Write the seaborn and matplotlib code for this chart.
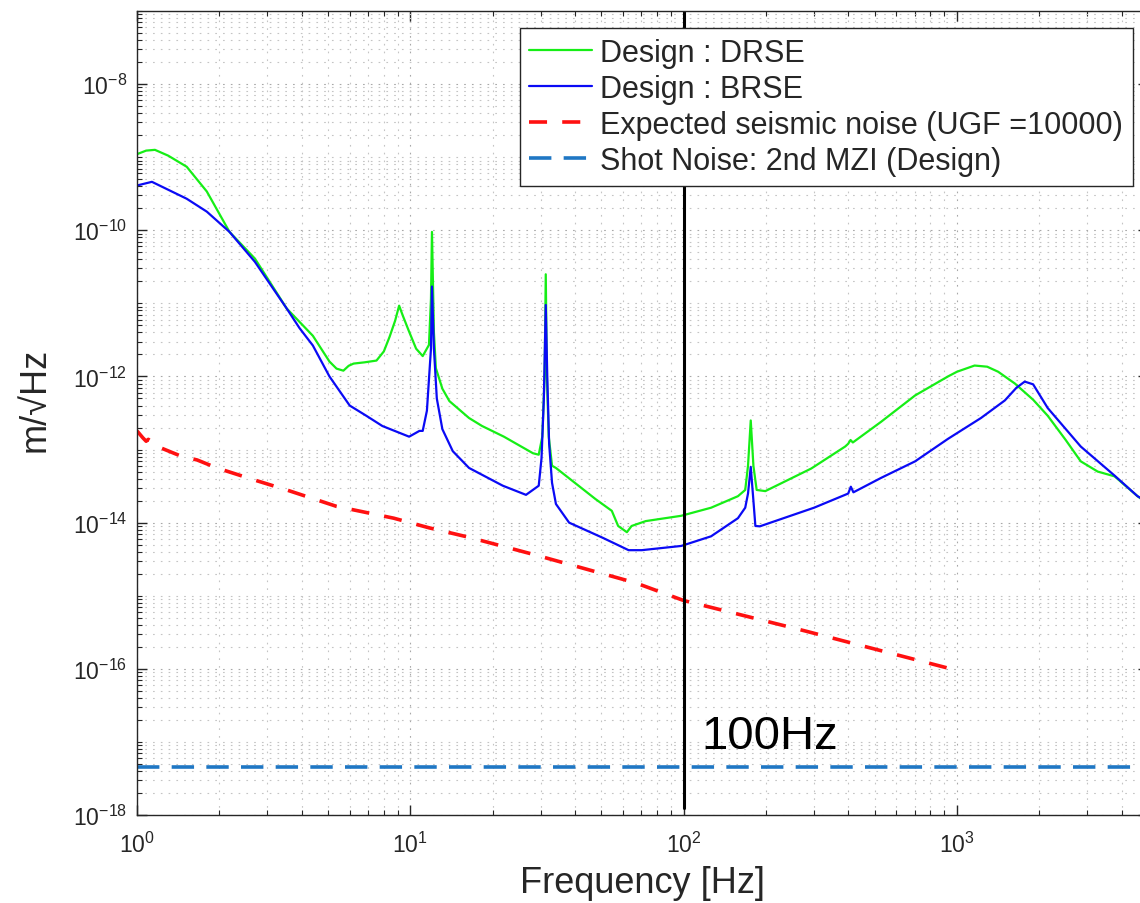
import matplotlib
matplotlib.use("Agg")
import matplotlib.pyplot as plt
import matplotlib.ticker as mticker
import seaborn as sns

# --- values (Hz, m/sqrt(Hz)) ---
drse_freq = [1.0, 1.08, 1.163, 1.3, 1.52, 1.8, 2.18, 2.7, 3.53, 4.4, 5.06, 5.37, 5.69,
             5.95, 6.2, 6.8, 7.52, 8.0, 8.4, 8.8, 9.1, 9.4, 9.9, 10.5, 11.1, 11.7, 11.9,
             12.0, 12.2, 12.4, 13.1, 13.9, 16.4, 18.3, 22.0, 28.1, 29.5, 30.4, 31.0, 31.3,
             31.6, 32.1, 33.0, 34.1, 41.7, 47.6, 54.6, 57.6, 62.0, 64.5, 72.7, 97.9, 126,
             158, 168, 172, 176, 180, 185, 199, 293, 390, 400, 408, 416, 528, 703, 927,
             1000, 1160, 1290, 1415, 1629, 1900, 2148, 2500, 2837, 3271, 3773, 4578, 5000]
drse_amp = [1.1e-9, 1.23e-9, 1.26e-9, 1.05e-9, 7.4e-10, 3.4e-10, 9.5e-11, 4.1e-11, 8.5e-12,
            3.6e-12, 1.6e-12, 1.28e-12, 1.2e-12, 1.4e-12, 1.5e-12, 1.56e-12, 1.65e-12,
            2.2e-12, 3.5e-12, 5.8e-12, 9.3e-12, 6.7e-12, 4.1e-12, 2.4e-12, 1.9e-12, 2.7e-12,
            1.15e-11, 9.5e-11, 4e-12, 1.3e-12, 6.8e-13, 4.6e-13, 2.7e-13, 2.1e-13, 1.5e-13,
            8.9e-14, 8.5e-14, 1.5e-13, 1e-12, 2.5e-11, 1e-12, 1.5e-13, 6e-14, 5.6e-14,
            3.1e-14, 2.1e-14, 1.45e-14, 9e-15, 7.4e-15, 9e-15, 1.05e-14, 1.24e-14, 1.6e-14,
            2.3e-14, 2.8e-14, 6e-14, 2.5e-13, 6e-14, 2.8e-14, 2.7e-14, 5.5e-14, 1.1e-13,
            1.2e-13, 1.35e-13, 1.25e-13, 2.4e-13, 5.5e-13, 1.0e-12, 1.16e-12, 1.41e-12,
            1.36e-12, 1.16e-12, 8.0e-13, 4.8e-13, 2.9e-13, 1.35e-13, 6.9e-14, 5.0e-14,
            4.3e-14, 2.3e-14, 1.8e-14]

brse_freq = [1.0, 1.134, 1.52, 1.8, 2.18, 2.7, 3.53, 3.93, 4.4, 5.06, 6.0, 6.9, 7.9, 9.9,
             10.8, 11.1, 11.5, 11.9, 12.0, 12.2, 12.5, 13.1, 14.3, 16.4, 21.8, 26.5, 29.5,
             30.2, 30.8, 31.3, 31.7, 32.2, 33.0, 34.1, 38.1, 50.6, 62.9, 70.3, 98, 126, 158,
             168, 172, 176, 180, 183, 190, 300, 400, 409, 418, 528, 703, 927, 1224, 1497,
             1650, 1770, 1900, 2148, 2837, 3773, 4578, 5000]
brse_amp = [4.1e-10, 4.6e-10, 2.7e-10, 1.8e-10, 9.5e-11, 3.7e-11, 8.5e-12, 4.6e-12, 2.65e-12,
            1.0e-12, 4.0e-13, 2.9e-13, 2.1e-13, 1.5e-13, 1.8e-13, 1.8e-13, 3.4e-13, 2.4e-12,
            1.7e-11, 2.4e-12, 5e-13, 1.9e-13, 9.5e-14, 5.6e-14, 3.2e-14, 2.4e-14, 3.2e-14,
            7.6e-14, 5e-13, 9.5e-12, 1e-12, 1.2e-13, 3.5e-14, 1.8e-14, 1.0e-14, 6.2e-15,
            4.2e-15, 4.2e-15, 4.8e-15, 6.5e-15, 1.15e-14, 1.6e-14, 2.5e-14, 5.8e-14, 2e-14,
            9e-15, 8.9e-15, 1.6e-14, 2.5e-14, 3.1e-14, 2.6e-14, 4.1e-14, 6.9e-14, 1.4e-13,
            2.7e-13, 4.7e-13, 7.0e-13, 8.5e-13, 7.8e-13, 3.7e-13, 1.1e-13, 4.4e-14, 2.3e-14,
            1.9e-14]

seis_freq = [1.0, 1.05, 1.08, 1.1, 1.21, 1.44, 1.66, 1.96, 2.71, 3.53, 5.37, 8.7, 11.7,
             16.4, 28.8, 66.7, 100, 278, 1000]
seis_amp = [1.8e-13, 1.45e-13, 1.3e-13, 1.38e-13, 1.07e-13, 8.2e-14, 7.2e-14, 5.6e-14,
            3.8e-14, 2.8e-14, 1.67e-14, 1.15e-14, 8.5e-15, 6.3e-15, 3.6e-15, 1.5e-15,
            8.6e-16, 3.3e-16, 9.5e-17]

shot_freq = [1.0, 5000.0]
shot_amp = [4.6e-18, 4.6e-18]

cut_freq = [100, 100]
cut_amp = [1.25e-18, 1e-7]

labels = ["Design : DRSE", "Design : BRSE",
          "Expected seismic noise (UGF =10000)", "Shot Noise: 2nd MZI (Design)"]

# --- style ---
sns.set_style("ticks")
plt.rcParams["font.family"] = ["Liberation Sans", "DejaVu Sans"]
plt.rcParams["mathtext.fontset"] = "custom"
plt.rcParams["mathtext.rm"] = "Liberation Sans"
plt.rcParams["axes.edgecolor"] = "#262626"
plt.rcParams["axes.linewidth"] = 1.0

fig = plt.figure(figsize=(11.4, 9.04), dpi=100)
ax = fig.add_axes([137 / 1140, 1 - 816 / 904, 1011 / 1140, 804 / 904])
ax.set_xscale("log")
ax.set_yscale("log")

sns.lineplot(x=drse_freq, y=drse_amp, ax=ax, color="#16ee16", lw=1.6,
             label=labels[0], sort=False, estimator=None)
sns.lineplot(x=brse_freq, y=brse_amp, ax=ax, color="#0a0af5", lw=1.6,
             label=labels[1], sort=False, estimator=None)
sns.lineplot(x=seis_freq, y=seis_amp, ax=ax, color="#ff1010", lw=2.6,
             linestyle=(0, (5, 4.2)), label=labels[2], sort=False, estimator=None)
sns.lineplot(x=shot_freq, y=shot_amp, ax=ax, color="#1f77c4", lw=2.6,
             linestyle=(0, (6.2, 3.4)), label=labels[3], sort=False, estimator=None)
sns.lineplot(x=cut_freq, y=cut_amp, ax=ax, color="black", lw=2.2,
             sort=False, estimator=None)

ax.text(116, 8.3e-18, "100Hz", fontsize=34, color="black", va="baseline", ha="left")

ax.set_xlim(1, 5000)
ax.set_ylim(1e-18, 1e-7)

# matlab-like ticks and grid
ax.yaxis.set_major_locator(mticker.FixedLocator([10.0 ** e for e in range(-18, -7, 2)]))
ax.yaxis.set_minor_locator(mticker.LogLocator(base=10, subs=range(1, 10), numticks=40))
ax.xaxis.set_major_locator(mticker.LogLocator(base=10, numticks=10))
ax.xaxis.set_minor_locator(mticker.LogLocator(base=10, subs=range(2, 10), numticks=40))
ax.yaxis.set_major_formatter(mticker.LogFormatterSciNotation())
ax.yaxis.set_minor_formatter(mticker.NullFormatter())
ax.xaxis.set_minor_formatter(mticker.NullFormatter())

ax.tick_params(which="both", direction="in", top=True, right=True, colors="#262626")
ax.tick_params(which="major", length=7, width=1)
ax.tick_params(which="minor", length=3.5, width=0.8)
ax.tick_params(axis="x", which="major", labelsize=16.5, pad=12)
ax.tick_params(axis="y", which="major", labelsize=16.5, pad=7)

ax.grid(True, which="major", color="#a8a8a8", linestyle=(0, (1.5, 5.5)), linewidth=0.8)
ax.grid(True, which="minor", color="#c4c4c4", linestyle=(0, (1.5, 5.5)), linewidth=0.8)
ax.set_axisbelow(True)

ax.set_xlabel("Frequency [Hz]", fontsize=26, color="#262626")
ax.set_ylabel("m/√Hz", fontsize=26, color="#262626")
ax.xaxis.set_label_coords(0.5, -0.062)
ax.yaxis.set_label_coords(-0.083, 0.517)

leg = ax.legend(loc="upper right", bbox_to_anchor=(0.985, 0.979), borderaxespad=0,
                fontsize=22, handlelength=2.05, handletextpad=0.27, labelspacing=0.2,
                borderpad=0.32, fancybox=False, framealpha=1, edgecolor="#262626")
leg.get_frame().set_linewidth(1.0)
leg.set_zorder(10)

fig.savefig("out.png", dpi=100)
